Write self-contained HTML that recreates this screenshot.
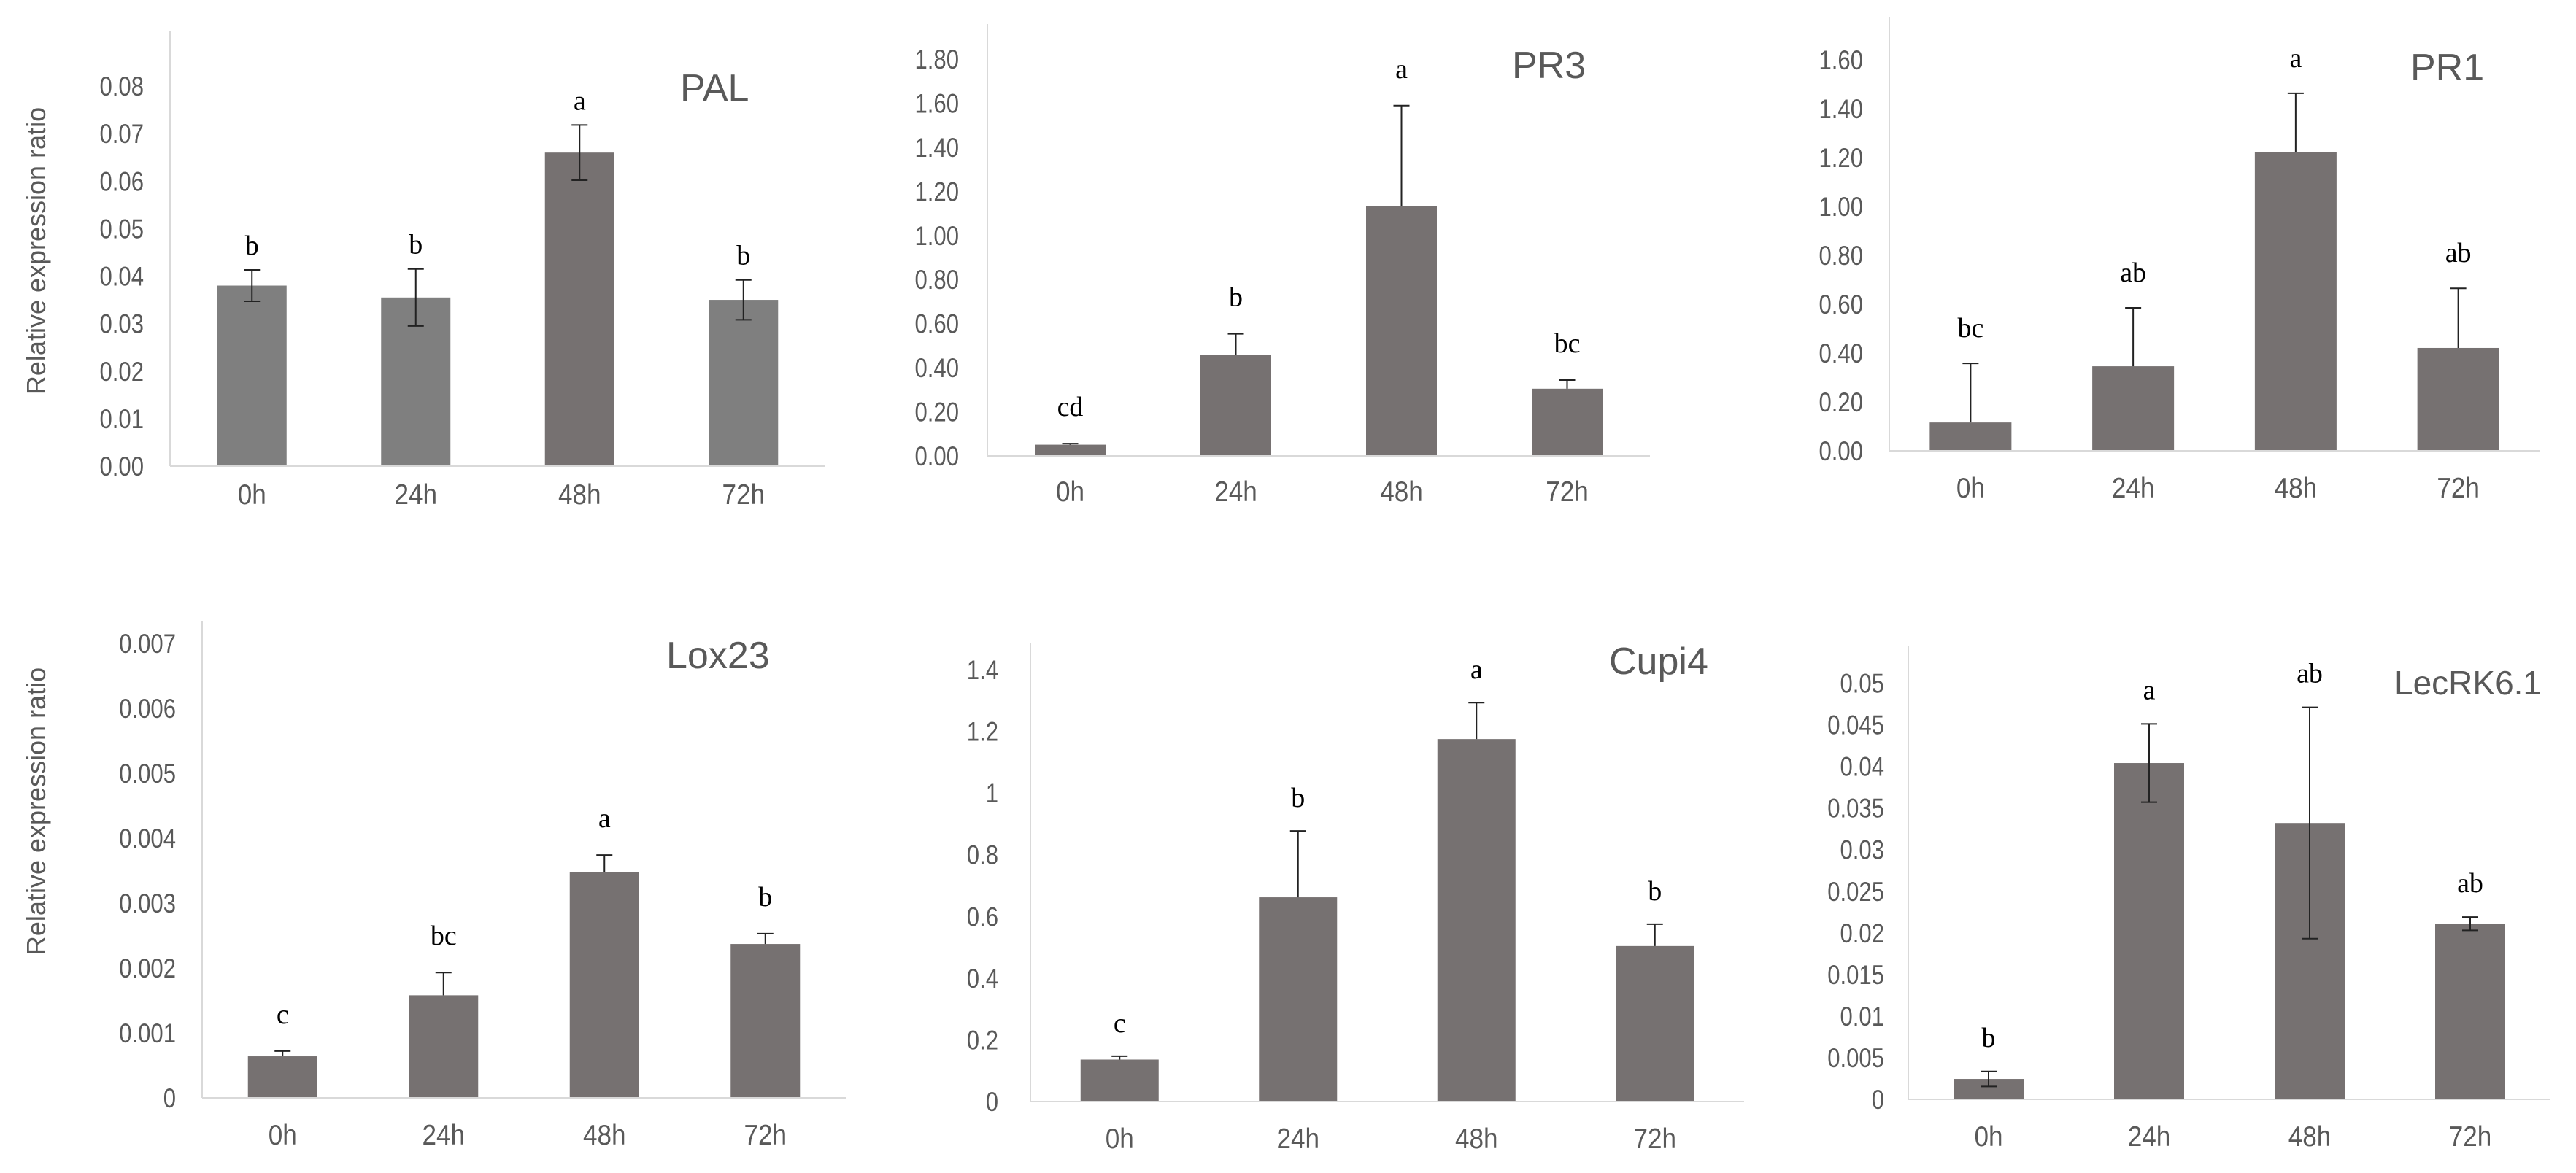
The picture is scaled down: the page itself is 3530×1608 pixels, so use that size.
<!DOCTYPE html>
<html><head><meta charset="utf-8"><style>
html,body{margin:0;padding:0;background:#fff;}
svg{display:block;}
</style></head><body>
<svg id="fig" width="3530" height="1608" viewBox="0 0 3530 1608" xmlns="http://www.w3.org/2000/svg">
<rect width="3530" height="1608" fill="#fff"/>
</svg>
<script>
const categories = ["0h","24h","48h","72h"];

const palValues = [0.038, 0.0355, 0.066, 0.035];
const palErrors = [0.0033, 0.006, 0.0058, 0.0042];
const palLetters = ["b","b","a","b"];
const palTicks = [0,0.01,0.02,0.03,0.04,0.05,0.06,0.07,0.08];
const palTickLabels = ["0.00","0.01","0.02","0.03","0.04","0.05","0.06","0.07","0.08"];

const pr3Values = [0.051, 0.457, 1.132, 0.305];
const pr3Errors = [0.005, 0.097, 0.457, 0.039];
const pr3Letters = ["cd","b","a","bc"];
const pr3Ticks = [0,0.2,0.4,0.6,0.8,1.0,1.2,1.4,1.6,1.8];
const pr3TickLabels = ["0.00","0.20","0.40","0.60","0.80","1.00","1.20","1.40","1.60","1.80"];

const pr1Values = [0.116, 0.346, 1.221, 0.421];
const pr1Errors = [0.242, 0.239, 0.242, 0.244];
const pr1Letters = ["bc","ab","a","ab"];
const pr1Ticks = [0,0.2,0.4,0.6,0.8,1.0,1.2,1.4,1.6];
const pr1TickLabels = ["0.00","0.20","0.40","0.60","0.80","1.00","1.20","1.40","1.60"];

const loxValues = [0.00064, 0.00158, 0.00348, 0.00237];
const loxErrors = [0.00008, 0.00035, 0.00026, 0.00016];
const loxLetters = ["c","bc","a","b"];
const loxTicks = [0,0.001,0.002,0.003,0.004,0.005,0.006,0.007];
const loxTickLabels = ["0","0.001","0.002","0.003","0.004","0.005","0.006","0.007"];

const cupiValues = [0.136, 0.662, 1.175, 0.504];
const cupiErrors = [0.011, 0.215, 0.118, 0.071];
const cupiLetters = ["c","b","a","b"];
const cupiTicks = [0,0.2,0.4,0.6,0.8,1,1.2,1.4];
const cupiTickLabels = ["0","0.2","0.4","0.6","0.8","1","1.2","1.4"];

const lecValues = [0.00245, 0.0404, 0.0332, 0.0211];
const lecErrors = [0.0009, 0.0047, 0.0139, 0.0008];
const lecLetters = ["b","a","ab","ab"];
const lecTicks = [0,0.005,0.01,0.015,0.02,0.025,0.03,0.035,0.04,0.045,0.05];
const lecTickLabels = ["0","0.005","0.01","0.015","0.02","0.025","0.03","0.035","0.04","0.045","0.05"];

const NS = "http://www.w3.org/2000/svg";
const svg = document.getElementById("fig");
function mk(tag, attrs, parent){
  const e = document.createElementNS(NS, tag);
  for (const k in attrs) e.setAttribute(k, attrs[k]);
  (parent||svg).appendChild(e);
  return e;
}

const panels = [
  {id:"pal", title:"PAL", values:palValues, errors:palErrors, letters:palLetters, ticks:palTicks, tickLabels:palTickLabels,
   ax:233, top:43, base:639, end:1131, maxV:0.08, maxY:118, barW:95, tickRight:197, titleX:932, titleY:138, titleSize:52, xOff:52,
   ylab:[50,344], both:true, gap:33, colors:["#7f7f7f","#7f7f7f","#767171","#7f7f7f"]},
  {id:"pr3", title:"PR3", values:pr3Values, errors:pr3Errors, letters:pr3Letters, ticks:pr3Ticks, tickLabels:pr3TickLabels,
   ax:1353, top:33, base:625, end:2261, maxV:1.8, maxY:81, barW:97, tickRight:1314, titleX:2072, titleY:107, titleSize:52, xOff:62, both:false, gap:50},
  {id:"pr1", title:"PR1", values:pr1Values, errors:pr1Errors, letters:pr1Letters, ticks:pr1Ticks, tickLabels:pr1TickLabels,
   ax:2589, top:23, base:618, end:3480, maxV:1.6, maxY:82, barW:112, tickRight:2553, titleX:3303, titleY:110, titleSize:52, xOff:64, both:false, gap:48},
  {id:"lox23", title:"Lox23", values:loxValues, errors:loxErrors, letters:loxLetters, ticks:loxTicks, tickLabels:loxTickLabels,
   ax:277, top:851, base:1505, end:1159, maxV:0.007, maxY:882, barW:95, tickRight:241, titleX:913, titleY:916, titleSize:52, xOff:64,
   ylab:[50,1112], both:false, gap:50},
  {id:"cupi4", title:"Cupi4", values:cupiValues, errors:cupiErrors, letters:cupiLetters, ticks:cupiTicks, tickLabels:cupiTickLabels,
   ax:1412, top:881, base:1510, end:2390, maxV:1.4, maxY:918, barW:107, tickRight:1368, titleX:2205, titleY:924, titleSize:52, xOff:64, both:false, gap:45},
  {id:"lecrk61", title:"LecRK6.1", values:lecValues, errors:lecErrors, letters:lecLetters, ticks:lecTicks, tickLabels:lecTickLabels,
   ax:2615, top:885, base:1507, end:3495, maxV:0.05, maxY:936.5, barW:96, tickRight:2582, titleX:3281, titleY:952, titleSize:46, xOff:64, both:true, gap:46}
];

panels.forEach(p => {
  const g = mk("g", {});
  
  
  const yScale = v => p.base - (v / p.maxV) * (p.base - p.maxY);
  const band = (p.end - p.ax) / categories.length;
  const xCenter = i => p.ax + (i + 0.5) * band;

  const ya = mk("line", {x1:p.ax, y1:p.top, x2:p.ax, y2:p.base, stroke:"#d9d9d9", "stroke-width":2}, g);
  
  

  p.ticks.forEach((t, i) => {
    const y = yScale(t);
    const tx = mk("text", {transform:`translate(${p.tickRight},${y + 13}) scale(0.84,1)`, "text-anchor":"end",
      "font-family":"Liberation Sans, sans-serif", "font-size":37, fill:"#595959"}, g);
    tx.textContent = p.tickLabels[i];
    
    
  });

  p.values.forEach((v, i) => {
    const cx = xCenter(i);
    const yt = yScale(v);
    const r = mk("rect", {x:cx - p.barW/2, y:yt, width:p.barW, height:p.base - yt,
      fill:(p.colors ? p.colors[i] : "#767171")}, g);
    
    

    const eTop = yScale(v + p.errors[i]);
    const eBot = p.both ? yScale(v - p.errors[i]) : yt;
    const el = mk("line", {x1:cx, y1:eTop, x2:cx, y2:eBot, stroke:"#222", "stroke-width":2}, g);
    
    
    const c1 = mk("line", {x1:cx-11, y1:eTop, x2:cx+11, y2:eTop, stroke:"#222", "stroke-width":2}, g);
    
    
    if (p.both) {
      const c2 = mk("line", {x1:cx-11, y1:eBot, x2:cx+11, y2:eBot, stroke:"#222", "stroke-width":2}, g);
      
      
    }

    const lt = mk("text", {x:cx, y:eTop - p.gap + 12, "text-anchor":"middle",
      "font-family":"Liberation Serif, serif", "font-size":38, fill:"#000"}, g);
    lt.textContent = p.letters[i];
    
    

    const xl = mk("text", {transform:`translate(${cx},${p.base + p.xOff}) scale(0.9,1)`, "text-anchor":"middle",
      "font-family":"Liberation Sans, sans-serif", "font-size":39, fill:"#595959"}, g);
    xl.textContent = categories[i];
    
    
  });

  const xa = mk("line", {x1:p.ax, y1:p.base, x2:p.end, y2:p.base, stroke:"#d9d9d9", "stroke-width":2}, g);
  
  

  const tt = mk("text", {x:p.titleX, y:p.titleY, "font-family":"Liberation Sans, sans-serif", "font-size":p.titleSize, fill:"#595959"}, g);
  tt.textContent = p.title;
  
  

  if (p.ylab) {
    const yl = mk("text", {transform:`translate(${p.ylab[0] + 12},${p.ylab[1]}) rotate(-90)`, "text-anchor":"middle",
      "font-family":"Liberation Sans, sans-serif", "font-size":36, fill:"#595959"}, g);
    yl.textContent = "Relative expression ratio";
    
    
  }
});
</script>
</body></html>
